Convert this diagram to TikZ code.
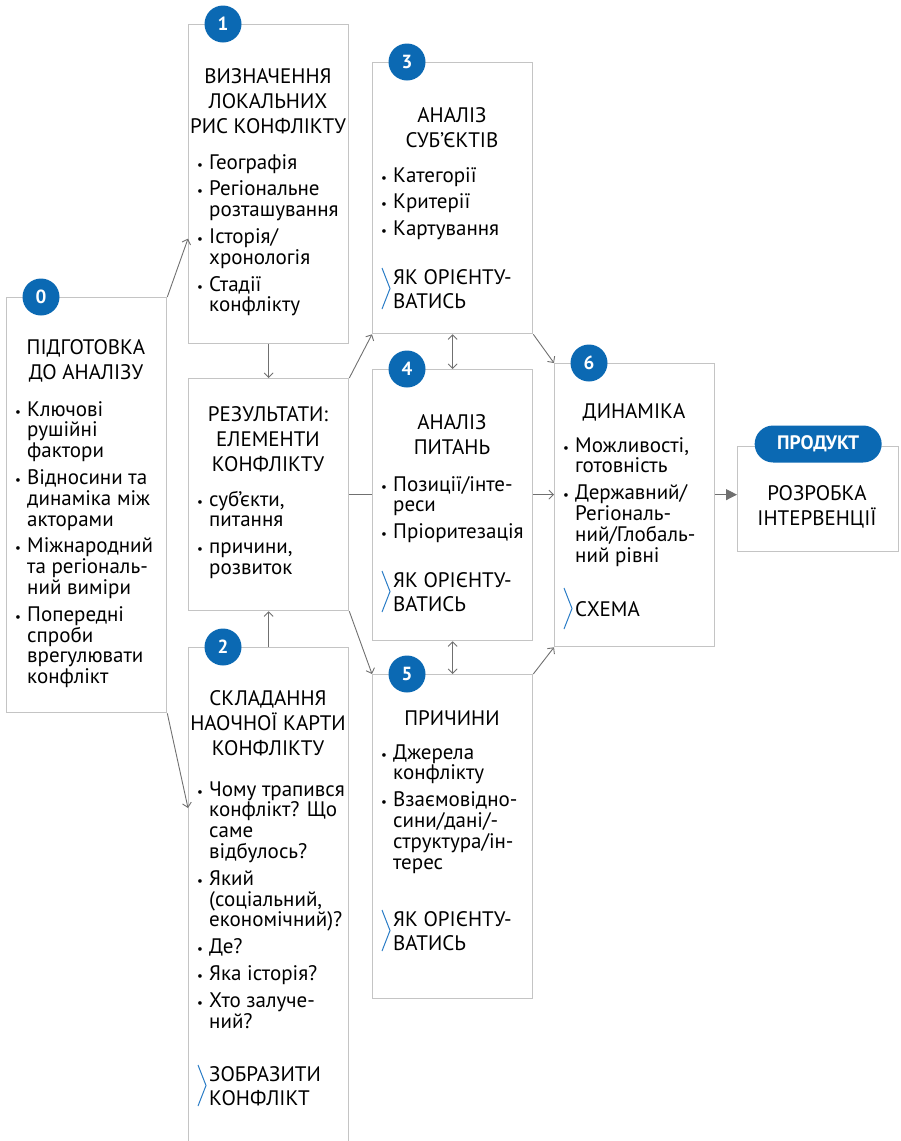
\documentclass[tikz,border=0pt]{standalone}
\usepackage{fontspec}
\setmainfont{PT Sans}
\usetikzlibrary{arrows.meta}

\definecolor{ramka}{HTML}{C4C4C4}
\definecolor{liniya}{HTML}{707070}
\definecolor{syniy}{HTML}{0B69B3}
\definecolor{kutok}{HTML}{2A7CC6}

% title block, list block, link block (first baseline = node base)
\newcommand{\zag}[1]{\vtop{\hsize=200pt\parindent=0pt\leftskip=0pt plus 1fil\rightskip=0pt plus 1fil\parfillskip=0pt
  \lineskiplimit=-100pt\lineskip=0pt\baselineskip=25pt\def\\{\break}#1\par}}
\newcommand{\spys}[1]{\vtop{\hsize=170pt\parindent=0pt\rightskip=0pt plus 1fil\hyphenpenalty=10000
  \lineskiplimit=-100pt\lineskip=0pt\baselineskip=20.8pt\parskip=6pt\def\\{\break}#1\par}}
\newcommand{\posyl}[1]{\vtop{\hsize=170pt\parindent=0pt\rightskip=0pt plus 1fil\hyphenpenalty=10000
  \lineskiplimit=-100pt\lineskip=0pt\baselineskip=24pt\def\\{\break}#1\par}}
\newcommand{\pkt}{\par\hangindent=12pt\hangafter=1\noindent\hbox to 12pt{{\fontsize{13}{13}\selectfont\textbullet}\hfil}}
% blue chevron left of a link node
\newcommand{\kut}[2]{\draw[chv] ([shift={(-11pt,#2pt+20.5pt)}]#1.base west) -- ([shift={(-3pt,#2pt)}]#1.base west) -- ([shift={(-11pt,#2pt-20.5pt)}]#1.base west);}

\begin{document}
\begin{tikzpicture}[x=1pt,y=-1pt,
  font=\fontsize{21}{22}\selectfont,
  box/.style={draw=ramka,line width=1.3pt,minimum width=160pt,anchor=north west,inner sep=0pt},
  num/.style={circle,fill=syniy,text=white,minimum size=37pt,inner sep=0pt,font=\fontsize{19}{19}\selectfont\bfseries},
  pill/.style={fill=syniy,text=white,rounded corners=18.5pt,minimum width=127pt,minimum height=37pt,inner sep=0pt,font=\fontsize{19.5}{19.5}\selectfont\bfseries},
  txt/.style={inner sep=0pt,anchor=base},
  lst/.style={inner sep=0pt,anchor=base west},
  chv/.style={draw=kutok,line width=1pt},
  lin/.style={draw=liniya,line width=0.9pt},
  con/.style={lin,-{Straight Barb[length=4.5pt,width=9pt]}},
  dcon/.style={lin,{Straight Barb[length=4.5pt,width=9pt]}-{Straight Barb[length=4.5pt,width=9pt]}},
  tcon/.style={lin,-{Triangle[length=11pt,width=11pt]},fill=liniya}]
\useasboundingbox (0,0) rectangle (900,1141);
\clip (0,0) rectangle (900,1141);
% boxes
\node[box,minimum height=415pt] (b0) at (6,297) {};
\node[box,minimum height=319pt] (b1) at (188,24) {};
\node[box,minimum height=232pt] (rez) at (188,378) {};
\node[box,minimum height=520pt] (b2) at (188,647) {};
\node[box,minimum height=271pt] (b3) at (372,62) {};
\node[box,minimum height=271pt] (b4) at (372,369) {};
\node[box,minimum height=324pt] (b5) at (372,674) {};
\node[box,minimum height=283pt] (b6) at (554,363) {};
\node[box,minimum width=161pt,minimum height=105pt] (pr) at (737,446) {};
% numbers
\node[num] (n0) at ([xshift=35pt]b0.north west) {0};
\node[num] (n1) at ([xshift=35pt]b1.north west) {1};
\node[num] (n2) at ([xshift=35pt]b2.north west) {2};
\node[num] (n3) at ([xshift=35pt]b3.north west) {3};
\node[num] (n4) at ([xshift=35pt]b4.north west) {4};
\node[num] (n5) at ([xshift=35pt]b5.north west) {5};
\node[num] (n6) at ([xshift=35pt]b6.north west) {6};
\node[pill] (np) at ([yshift=2pt]pr.north) {ПРОДУКТ};
% box 0
\node[txt] (t0) at (86,354) {\zag{ПІДГОТОВКА\\ДО АНАЛІЗУ}};
\node[lst] (s0) at (15,416) {\spys{\pkt Ключові\\рушійні\\фактори
  \pkt Відносини та\\динаміка між\\акторами
  \pkt Міжнародний\\та регіональ-\\ний виміри
  \pkt Попередні\\спроби\\врегулювати\\конфлікт}};
% box 1
\node[txt] (t1) at (268,83) {\zag{ВИЗНАЧЕННЯ\\ЛОКАЛЬНИХ\\РИС КОНФЛІКТУ}};
\node[lst] (s1) at (197,169) {\spys{\pkt Географія
  \pkt Регіональне\\розташування
  \pkt Історія/\\хронологія
  \pkt Стадії\\конфлікту}};
% results
\node[txt] (tr) at (268,421) {\zag{РЕЗУЛЬТАТИ:\\ЕЛЕМЕНТИ\\КОНФЛІКТУ}};
\node[lst] (sr) at (197,506) {\spys{\pkt суб’єкти,\\питання
  \pkt причини,\\розвиток}};
% box 2
\node[txt] (t2) at (268,705) {\zag{СКЛАДАННЯ\\НАОЧНОЇ КАРТИ\\КОНФЛІКТУ}};
\node[lst] (s2) at (197,796) {\spys{\pkt Чому трапився\\конфлікт? Що\\саме\\відбулось?
  \pkt Який\\(соціальний,\\економічний)?
  \pkt Де?
  \pkt Яка історія?
  \pkt Хто залуче-\\ний?}};
\node[lst] (k2) at (209,1081) {\posyl{ЗОБРАЗИТИ\\КОНФЛІКТ}};
\kut{k2}{-4.5}
% box 3
\node[txt] (t3) at (452,122) {\zag{АНАЛІЗ\\СУБ’ЄКТІВ}};
\node[lst] (s3) at (381,182) {\spys{\pkt Категорії
  \pkt Критерії
  \pkt Картування}};
\node[lst] (k3) at (393,284) {\posyl{ЯК ОРІЄНТУ-\\ВАТИСЬ}};
\kut{k3}{-4.5}
% box 4
\node[txt] (t4) at (452,429) {\zag{АНАЛІЗ\\ПИТАНЬ}};
\node[lst] (s4) at (381,491) {\spys{\pkt Позиції/інте-\\реси
  \pkt Пріоритезація}};
\node[lst] (k4) at (393,587) {\posyl{ЯК ОРІЄНТУ-\\ВАТИСЬ}};
\kut{k4}{-4.5}
% box 5
\node[txt] (t5) at (452,725) {\zag{ПРИЧИНИ}};
\node[lst] (s5) at (381,759) {\spys{\pkt Джерела\\конфлікту
  \pkt Взаємовідно-\\сини/дані/-\\структура/ін-\\терес}};
\node[lst] (k5) at (393,926) {\posyl{ЯК ОРІЄНТУ-\\ВАТИСЬ}};
\kut{k5}{-4.5}
% box 6
\node[txt] (t6) at (634,418) {\zag{ДИНАМІКА}};
\node[lst] (s6) at (563,452) {\spys{\pkt Можливості,\\готовність
  \pkt Державний/\\Регіональ-\\ний/Глобаль-\\ний рівні}};
\node[lst] (k6) at (575,616) {\posyl{СХЕМА}};
\kut{k6}{7.5}
% product
\node[txt] (tp) at (817,500) {\zag{РОЗРОБКА\\ІНТЕРВЕНЦІЇ}};
% connectors
\draw[con] (b0.north east) -- ([yshift=-54.5pt]b1.west);
\draw[con] (b0.south east) -- ([yshift=-161pt]b2.north west);
\draw[con] (b1.south) -- (rez.north);
\draw[con] (b2.north) -- (rez.south);
\draw[con] (rez.north east) -- (b3.south west);
\draw[lin] (rez.east) -- (rez.east -| b4.west);
\draw[con] (rez.south east) -- (b5.north west);
\draw[dcon] (b3.south) -- (b4.north);
\draw[dcon] (b4.south) -- (b5.north);
\draw[con] (b3.south east) -- (b6.north west);
\draw[con] (rez.east -| b4.east) -- (rez.east -| b6.west);
\draw[con] (b5.north east) -- (b6.south west);
\draw[tcon] (rez.east -| b6.east) -- (rez.east -| pr.west);
\end{tikzpicture}
\end{document}
